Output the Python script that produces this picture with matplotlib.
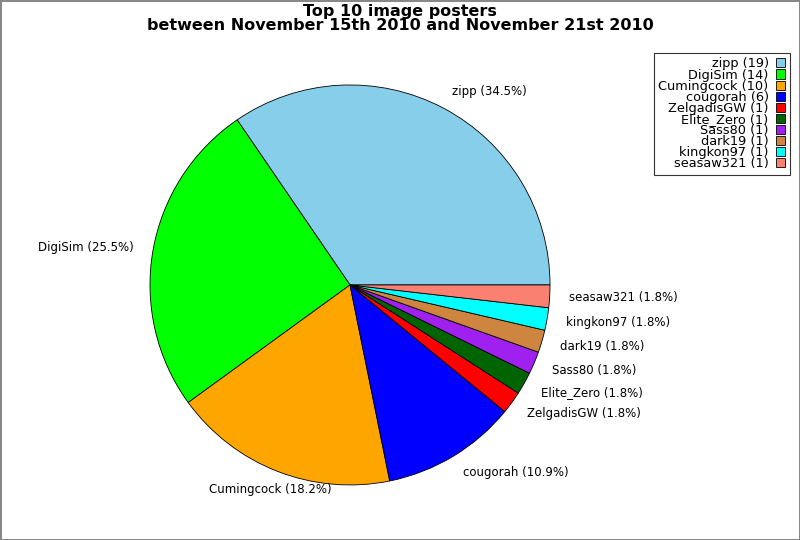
import matplotlib
matplotlib.use("Agg")
import matplotlib.pyplot as plt

names = ["zipp", "DigiSim", "Cumingcock", "cougorah", "ZelgadisGW",
         "Elite_Zero", "Sass80", "dark19", "kingkon97", "seasaw321"]
counts = [19, 14, 10, 6, 1, 1, 1, 1, 1, 1]
colors = ["#87CEEB", "#00FF00", "#FFA500", "#0000FF", "#FF0000",
          "#006400", "#A020F0", "#CD853F", "#00FFFF", "#FA8072"]

total = sum(counts)
labels = ["%s (%.1f%%)" % (n, 100.0 * c / total) for n, c in zip(names, counts)]

fig = plt.figure(figsize=(8, 5.4), dpi=100, edgecolor="#888888", linewidth=2)
ax = fig.add_axes([0.1875, 0.1018, 0.5, 0.741])

wedges, texts = ax.pie(counts, labels=labels, colors=colors, startangle=0,
                       counterclock=True, labeldistance=1.095,
                       wedgeprops=dict(edgecolor="black", linewidth=0.6),
                       textprops=dict(fontsize=8.5))
# the bottom label sits centred under its slice in the original
texts[2].set_ha("center")
ax.set_xlim(-1, 1)
ax.set_ylim(-1, 1)
ax.set_aspect("equal")

fig.suptitle("Top 10 image posters\nbetween November 15th 2010 and November 21st 2010",
             fontsize=11.5, fontweight="bold", y=0.993, linespacing=0.95)

leg = fig.legend(wedges, ["%s (%d)" % (n, c) for n, c in zip(names, counts)],
                 loc="upper right", bbox_to_anchor=(0.9875, 0.902),
                 markerfirst=False, fontsize=9.3, frameon=True, fancybox=False,
                 edgecolor="black", handlelength=0.7, handleheight=0.7,
                 handletextpad=0.6, labelspacing=-0.15, borderpad=0.35,
                 borderaxespad=0)
leg.get_frame().set_linewidth(0.8)

fig.savefig("out.png", dpi=100, edgecolor=fig.get_edgecolor())
